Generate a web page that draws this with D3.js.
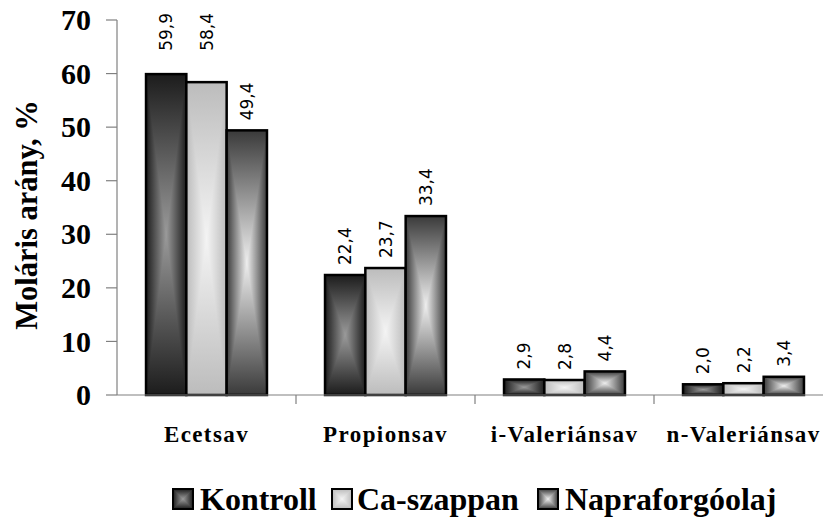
<!DOCTYPE html>
<html><head><meta charset="utf-8">
<script src="https://cdn.jsdelivr.net/npm/d3@7"></script>
<style>body{margin:0;background:#fff}svg{display:block}</style>
</head><body>
<svg id="c" width="823" height="519"></svg>
<script>
const categories = ["Ecetsav","Propionsav","i-Valeriánsav","n-Valeriánsav"];
const seriesNames = ["Kontroll","Ca-szappan","Napraforgóolaj"];
const kontroll = [59.9,22.4,2.9,2.0];
const caSzappan = [58.4,23.7,2.8,2.2];
const napraforgo = [49.4,33.4,4.4,3.4];
const valueLabels = [["59,9","22,4","2,9","2,0"],["58,4","23,7","2,8","2,2"],["49,4","33,4","4,4","3,4"]];
const yTicks = [0,10,20,30,40,50,60,70];
const seriesValues = [kontroll, caSzappan, napraforgo];
const edgeColors = ["#1c1c1c","#bcbcbc","#3a3a3a"];
const centerColors = ["#9a9a9a","#f4f4f4","#eeeeee"];

const svg = d3.select("#c");
const defs = svg.append("defs");
seriesNames.forEach((s,i)=>{
  ["h","v"].forEach(dir=>{
    const g = defs.append("linearGradient").attr("id",`g${dir}${i}`)
      .attr("x1","0").attr("y1","0")
      .attr("x2",dir==="h"?"1":"0").attr("y2",dir==="h"?"0":"1");
    g.append("stop").attr("offset","0").attr("stop-color",edgeColors[i]);
    g.append("stop").attr("offset","0.5").attr("stop-color",centerColors[i]);
    g.append("stop").attr("offset","1").attr("stop-color",edgeColors[i]);
  });
});

const y = d3.scaleLinear().domain([0,70]).range([395,20]);
const x0 = d3.scaleBand().domain(categories).range([117,833]).padding(0);
const x1 = d3.scaleBand().domain(seriesNames).range([0,x0.bandwidth()]).paddingInner(0).paddingOuter(0.72);

function gradRect(g, xx, yy, w, h, i, sw){
  g.append("rect").attr("x",xx).attr("y",yy).attr("width",w).attr("height",h).attr("fill",`url(#gh${i})`);
  g.append("rect").attr("x",xx).attr("y",yy).attr("width",w).attr("height",h).attr("fill",`url(#gv${i})`).style("mix-blend-mode","darken");
  g.append("rect").attr("x",xx).attr("y",yy).attr("width",w).attr("height",h).attr("fill","none").attr("stroke","#000").attr("stroke-width",sw);
}

// bars
const barsG = svg.append("g").style("isolation","isolate");
categories.forEach((c,ci)=>{
  seriesNames.forEach((s,si)=>{
    const v = seriesValues[si][ci];
    const bx = x0(c)+x1(s), bw = x1.bandwidth();
    gradRect(barsG.append("g").style("isolation","isolate"), bx, y(v), bw, y(0)-y(v), si, 2.5);
  });
});

// axes
const axG = svg.append("g");
axG.append("line").attr("x1",117).attr("x2",117).attr("y1",y(70)).attr("y2",y(0)).attr("stroke","#808080").attr("stroke-width",1.2);
axG.append("line").attr("x1",117).attr("x2",823).attr("y1",y(0)).attr("y2",y(0)).attr("stroke","#808080").attr("stroke-width",1.2);
yTicks.forEach(t=>{
  axG.append("line").attr("x1",106).attr("x2",117).attr("y1",y(t)).attr("y2",y(t)).attr("stroke","#808080").attr("stroke-width",1.2);
  axG.append("text").attr("x",91).attr("y",y(t)).attr("dy","0.34em").attr("text-anchor","end")
    .attr("font-family","Liberation Serif").attr("font-weight","bold").attr("font-size",30).text(t);
});
categories.forEach((c,ci)=>{
  if(ci>0) axG.append("line").attr("x1",x0(c)).attr("x2",x0(c)).attr("y1",y(0)).attr("y2",y(0)+9).attr("stroke","#808080").attr("stroke-width",1.2);
  axG.append("text").attr("x",x0(c)+x0.bandwidth()/2).attr("y",442).attr("text-anchor","middle")
    .attr("font-family","Liberation Serif").attr("font-weight","bold").attr("font-size",23).attr("letter-spacing",1.4).text(c);
});
svg.append("text").attr("transform","translate(37,215) rotate(-90)").attr("text-anchor","middle")
  .attr("font-family","Liberation Serif").attr("font-weight","bold").attr("font-size",30.5).text("Moláris arány, %");

// value labels (rotated, reading bottom-to-top); labels near the top are pinned to the top edge
categories.forEach((c,ci)=>{
  seriesNames.forEach((s,si)=>{
    const v = seriesValues[si][ci];
    const cx = x0(c)+x1(s)+x1.bandwidth()/2;
    const t = svg.append("text").attr("font-family","DejaVu Sans").attr("font-size",17)
      .attr("text-anchor","start").text(valueLabels[si][ci]);
    const w = t.node().getComputedTextLength();
    let bottom = y(v)-10;
    if(bottom - w < 40) bottom = 13 + w;
    t.attr("x",cx).attr("y",bottom).attr("dy","0.36em")
     .attr("transform",`rotate(-90 ${cx} ${bottom})`);
  });
});

// legend
const legSq = [173,332,538];
const legTx = [200,357,565];
seriesNames.forEach((s,i)=>{
  const g = svg.append("g").style("isolation","isolate");
  gradRect(g, legSq[i], 489, 20, 20, i, 2);
  svg.append("text").attr("x",legTx[i]).attr("y",510).attr("font-family","Liberation Serif").attr("font-weight","bold").attr("font-size",32).text(s);
});
</script>
</body></html>
